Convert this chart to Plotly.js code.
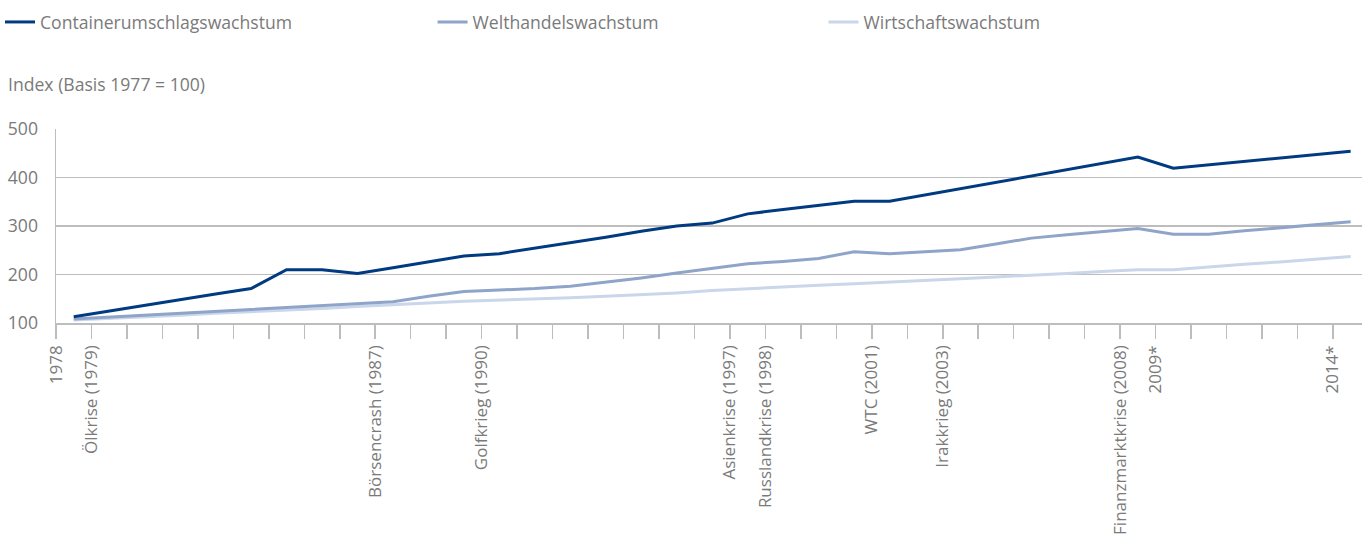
<!DOCTYPE html>
<html>
<head>
<meta charset="utf-8">
<script src="https://cdn.plot.ly/plotly-3.0.1.min.js"></script>
<style>html,body{margin:0;padding:0;background:#fff;}#chart{width:1362px;height:536px;}</style>
</head>
<body>
<div id="chart"></div>
<script>
// Data
var years = [1978,1979,1980,1981,1982,1983,1984,1985,1986,1987,1988,1989,1990,1991,1992,1993,1994,1995,1996,1997,1998,1999,2000,2001,2002,2003,2004,2005,2006,2007,2008,2009,2010,2011,2012,2013,2014];
var containerumschlag = [113,125,136,148,160,171,210,210,202,214,226,238,243,254,266,277,289,300,306,325,334,342,351,351,364,377,390,403,416,429,442,419,426,433,440,447,454];
var welthandel = [108,112,116,120,124,128,132,136,140,144,155,165,168,171,176,184,193,203,213,222,227,233,247,243,247,251,263,275,282,288,295,283,283,290,296,302,309];
var wirtschaft = [106,109,113,116,120,123,127,130,134,137,141,145,147,150,152,155,158,162,167,171,174,178,181,184,188,191,195,198,202,206,210,210,216,221,226,231,237];
var labelYears = [1978,1979,1987,1990,1997,1998,2001,2003,2008,2009,2014];
var labelTexts = ["1978","Ölkrise (1979)","Börsencrash (1987)","Golfkrieg (1990)","Asienkrise (1997)","Russlandkrise (1998)","WTC (2001)","Irakkrieg (2003)","Finanzmarktkrise (2008)","2009*","2014*"];
var seriesNames = ["Containerumschlagswachstum","Welthandelswachstum","Wirtschaftswachstum"];
var yTicks = [100,200,300,400,500];
var yTitle = "Index (Basis 1977 = 100)";

var FONT = "Open Sans, sans-serif";
var GREY = "#7a7a7a";
var GRID = "#bdbdbd";
var FS = 17.6;
var FSX = 17;

// ticks on category boundaries (left of each year)
var tickvals = years.map(function(y){return y-0.5;});
var ticktext = years.map(function(y){var i = labelYears.indexOf(y); return i>=0 ? labelTexts[i] : "";});

var colors = ["#003a80","#8fa4c9","#cad6ea"];
var allSeries = [containerumschlag, welthandel, wirtschaft];
var legendIds = ["legend","legend2","legend3"];
var traces = allSeries.map(function(s,i){
  return {x: years, y: s, type: "scatter", mode: "lines", name: seriesNames[i],
    line: {color: colors[i], width: 3}, legend: legendIds[i], hoverinfo: "x+y"};
});
traces.reverse();

function leg(x){
  return {xref:"container", yref:"container", x:x, y:1-22/536, xanchor:"left", yanchor:"middle",
    orientation:"h", font:{family:FONT, size:FS, color:GREY}, bgcolor:"rgba(0,0,0,0)", borderwidth:0,
    itemwidth:30, tracegroupgap:0};
}

var layout = {
  width: 1362, height: 536,
  margin: {l: 56, r: 0, t: 128.7, b: 212.5},
  paper_bgcolor: "#fff", plot_bgcolor: "#fff",
  font: {family: FONT, size: FS, color: GREY},
  showlegend: true,
  legend: leg(-0.004),
  legend2: leg(0.3176),
  legend3: leg(0.6046),
  xaxis: {type:"linear", range:[1977.5, 2014.32], tickmode:"array", tickvals:tickvals, ticktext:ticktext,
    ticks:"outside", ticklen:14, tickwidth:1.5, tickcolor:GRID, tickangle:-90,
    showline:true, linecolor:GRID, linewidth:1.5, showgrid:false, zeroline:false,
    tickfont:{family:FONT, size:FSX, color:GREY}},
  yaxis: {range:[100,500], tickmode:"array", tickvals:yTicks, ticks:"", showline:true, linecolor:GRID, linewidth:1.5,
    showgrid:true, gridcolor:GRID, gridwidth:1.5, zeroline:false, ticklabelstandoff:13,
    tickfont:{family:FONT, size:FS, color:GREY}},
  annotations: [{text: yTitle, xref:"paper", yref:"paper", x: (6-56)/1306, y: (323.5-84)/194.8, xanchor:"left", yanchor:"middle",
    showarrow:false, font:{family:FONT, size:FS, color:GREY}}]
};

Plotly.newPlot("chart", traces, layout, {displayModeBar:false, staticPlot:true});
</script>
</body>
</html>
